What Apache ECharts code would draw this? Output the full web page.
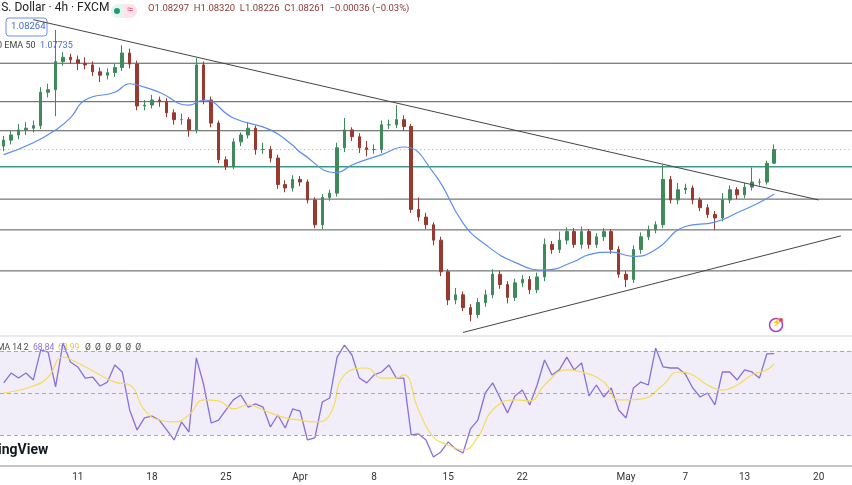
<!DOCTYPE html>
<html><head><meta charset="utf-8">
<script src="https://cdn.jsdelivr.net/npm/echarts@6/dist/echarts.min.js"></script>
<style>html,body{margin:0;padding:0;background:#fff}#c{width:852px;height:485px}</style>
</head><body><div id="c"></div>
<script>
// 4h EUR/USD bars sampled every half day (index = half trading day)
var closes = [1.0837,1.0843,1.0849,1.0851,1.0854,1.0893,1.0896,1.0929,1.0934,1.0931,
  1.0927,1.0925,1.0917,1.0913,1.0916,1.0922,1.0939,1.0926,1.0877,1.0878,
  1.0884,1.0882,1.0869,1.0861,1.0861,1.0849,1.0925,1.0884,1.0857,1.0814,
  1.0806,1.0835,1.0843,1.0851,1.0826,1.0826,1.0816,1.0785,1.0781,1.0791,
  1.0788,1.0767,1.0738,1.0770,1.0775,1.0828,1.0849,1.0841,1.0828,1.0826,
  1.0826,1.0855,1.0855,1.0861,1.0853,1.0756,1.0747,1.0738,1.0720,1.0683,
  1.0650,1.0656,1.0641,1.0633,1.0647,1.0656,1.0680,1.0668,1.0653,1.0670,
  1.0674,1.0662,1.0677,1.0715,1.0709,1.0720,1.0730,1.0715,1.0730,1.0715,
  1.0724,1.0730,1.0709,1.0680,1.0674,1.0709,1.0724,1.0732,1.0738,1.0791,
  1.0767,1.0779,1.0781,1.0767,1.0758,1.0750,1.0746,1.0767,1.0779,1.0773,
  1.0782,1.0788,1.0788,1.0810,1.0826];
var firstOpen = 1.0830;
var highs = [1.0842,1.0848,1.0856,1.0858,1.0860,1.0899,1.0903,1.0966,1.0940,1.0938,
  1.0936,1.0934,1.0929,1.0922,1.0921,1.0927,1.0948,1.0944,1.0930,1.0884,
  1.0890,1.0888,1.0886,1.0873,1.0868,1.0864,1.0933,1.0929,1.0888,1.0860,
  1.0818,1.0839,1.0846,1.0858,1.0854,1.0834,1.0830,1.0820,1.0790,1.0796,
  1.0795,1.0791,1.0770,1.0774,1.0779,1.0834,1.0863,1.0852,1.0845,1.0836,
  1.0832,1.0860,1.0861,1.0878,1.0866,1.0856,1.0770,1.0752,1.0741,1.0724,
  1.0686,1.0664,1.0660,1.0645,1.0652,1.0662,1.0686,1.0684,1.0672,1.0675,
  1.0679,1.0678,1.0682,1.0722,1.0719,1.0730,1.0735,1.0734,1.0736,1.0733,
  1.0728,1.0734,1.0733,1.0713,1.0684,1.0714,1.0729,1.0737,1.0742,1.0808,
  1.0795,1.0787,1.0786,1.0784,1.0770,1.0762,1.0754,1.0775,1.0784,1.0782,
  1.0787,1.0805,1.0792,1.0813,1.0832];
var lows = [1.0824,1.0832,1.0838,1.0843,1.0846,1.0850,1.0887,1.0865,1.0924,1.0926,
  1.0919,1.0920,1.0912,1.0905,1.0908,1.0911,1.0918,1.0921,1.0872,1.0872,
  1.0874,1.0876,1.0864,1.0855,1.0855,1.0841,1.0845,1.0879,1.0852,1.0810,
  1.0802,1.0803,1.0830,1.0839,1.0820,1.0821,1.0811,1.0780,1.0776,1.0777,
  1.0783,1.0763,1.0734,1.0733,1.0766,1.0771,1.0823,1.0836,1.0822,1.0818,
  1.0821,1.0822,1.0850,1.0851,1.0848,1.0752,1.0742,1.0733,1.0714,1.0678,
  1.0644,1.0645,1.0637,1.0625,1.0629,1.0642,1.0652,1.0663,1.0646,1.0649,
  1.0665,1.0657,1.0658,1.0672,1.0704,1.0705,1.0715,1.0711,1.0710,1.0710,
  1.0711,1.0719,1.0704,1.0676,1.0665,1.0670,1.0704,1.0720,1.0728,1.0734,
  1.0763,1.0762,1.0774,1.0762,1.0754,1.0746,1.0732,1.0742,1.0763,1.0768,
  1.0769,1.0778,1.0784,1.0785,1.0822];
// EMA 50: [bar index, price]
var ema50 = [[0,1.0820],[4,1.0834],[7,1.0849],[8.6,1.0863],[11.4,1.0884],[14.5,1.0893],[16.9,1.0903],
  [18.5,1.0899],[20.8,1.0893],[25.3,1.0878],[27,1.0884],[31.1,1.0863],[35.7,1.0849],[38.8,1.0831],
  [40.1,1.0823],[44.6,1.0799],[46.5,1.0808],[50.9,1.0820],[54.3,1.0829],[57.7,1.0799],[61.8,1.0740],
  [64.5,1.0715],[68.9,1.0694],[72.6,1.0685],[76.6,1.0695],[78.9,1.0703],[82.4,1.0706],[84.7,1.0701],
  [87.8,1.0709],[92.4,1.0736],[95.9,1.0741],[98.6,1.0752],[102.3,1.0764],[104.3,1.0774]];
var rsi = [54.8,59.5,57.1,59.5,56.2,70.5,69.5,52.9,73.8,64.8,62.4,57.1,57.6,53.3,55.2,63.3,60,41.9,32.4,38.1,
  39,37.1,32.4,27.6,36.2,31.4,66.7,53.8,35.7,37.1,41.9,46.7,49,43.3,44.8,43.3,33.8,39.5,33.3,42.4,
  41.4,27.6,28.6,45.7,47.6,67.1,72.8,68.1,57.1,54.8,58.6,60,63.3,57.1,57.1,30,30.5,27.6,19.5,21.9,
  26.7,23.3,21.4,32.9,37.1,50,54.8,47.6,40.5,48.6,51.4,44.3,53.8,65.7,58.6,61,67.1,61,64.3,48.6,
  53.8,48.1,52.4,41.9,38.1,52.4,55.2,53.8,71.4,62.4,61.9,61.9,59,52.4,48.1,50,44.3,60,60,56.2,
  61,60,57.1,68.6,68.8];
var rsiMa = [[0,50],[4,53.3],[6,57.6],[8,67.1],[10,64.3],[13,58.6],[15,55.2],[17,53.8],[19,41.9],[21,37.1],
  [23,36.2],[25,39.5],[27,46.7],[29,46.2],[31,42.4],[33,44.3],[35,41.9],[38,38.1],[40,37.1],[42,36.2],
  [44,39.5],[46,58.6],[49,61.9],[51,57.1],[53,57.1],[54,58.6],[56,41.9],[58,29],[60,25.2],[62,22.9],
  [64,29],[66,41.9],[69,46.7],[71,46.2],[73,53.8],[76,61],[78,60],[81,55.2],[83,46.7],[86,47.1],
  [89,53.8],[91,60],[93,58.6],[95,53.8],[97,51.4],[99,53.8],[101,58.6],[103,61],[104,63.99]];
var levels = [1.0927,1.0882,1.0848,1.0768,1.0732,1.0684];
var keyLevel = 1.0806;
var lastPrice = 1.0826;
var downTrend = [[3.6,1.0978],[110,1.0767]];
var upTrend = [[61.5,1.0612],[113.4,1.0725]];
var tickLabels = {10:'11',20:'18',30:'25',40:'Apr',50:'8',60:'15',70:'22',84:'May',92:'7',100:'13',110:'20'};
var nBars = 115;

var cats = [];
for (var i = 0; i < nBars; i++) cats.push(String(i));
var ohlc = closes.map(function (c, i) {
  var o = i === 0 ? firstOpen : closes[i - 1];
  return [o, c, lows[i], highs[i]];
});

function hLine(v, color, width, type) {
  return { type: 'line', xAxisIndex: 0, yAxisIndex: 0, data: [[-1, v], [nBars, v]], showSymbol: false,
    silent: true, clip: false, z: 1, lineStyle: { color: color, width: width, type: type } };
}

var chart = echarts.init(document.getElementById('c'));
var font = 'Roboto, "Noto Sans", sans-serif';
var series = levels.map(function (v) { return hLine(v, '#555', 1, 'solid'); });
series.push(hLine(keyLevel, '#3a9a85', 1.5, 'solid'));
series.push(hLine(lastPrice, '#e09a8a', 1, [1, 3]));
series.push(
  { type: 'candlestick', xAxisIndex: 0, yAxisIndex: 0, data: ohlc, barWidth: 3, z: 3,
    itemStyle: { color: '#3f8a5a', color0: '#983a2f', borderColor: '#3f8a5a', borderColor0: '#983a2f', borderWidth: 1 } },
  { type: 'line', xAxisIndex: 0, yAxisIndex: 0, data: ema50, smooth: true, showSymbol: false, z: 4,
    lineStyle: { color: '#5a8ef0', width: 1.2 } },
  { type: 'line', xAxisIndex: 0, yAxisIndex: 0, data: downTrend, showSymbol: false, z: 4,
    lineStyle: { color: '#444', width: 1 } },
  { type: 'line', xAxisIndex: 0, yAxisIndex: 0, data: upTrend, showSymbol: false, z: 4,
    lineStyle: { color: '#444', width: 1 } },
  { type: 'line', xAxisIndex: 1, yAxisIndex: 1, data: rsi, showSymbol: false,
    lineStyle: { color: '#8a6fd8', width: 1.3 },
    markArea: { silent: true, itemStyle: { color: 'rgba(126,87,194,0.1)' }, data: [[{ yAxis: 30 }, { yAxis: 70 }]] },
    markLine: { symbol: 'none', silent: true, label: { show: false },
      lineStyle: { color: '#aaa', type: [4, 3], width: 1 },
      data: [{ yAxis: 70 }, { yAxis: 50 }, { yAxis: 30 }] } },
  { type: 'line', xAxisIndex: 1, yAxisIndex: 1, data: rsiMa, smooth: true, showSymbol: false,
    lineStyle: { color: '#f5dc5a', width: 1.2 } }
);

chart.setOption({
  animation: false,
  textStyle: { fontFamily: font },
  grid: [
    { left: 0, right: 0, top: 0, height: 335 },
    { left: 0, right: 0, top: 338, height: 128 }
  ],
  xAxis: [
    { gridIndex: 0, type: 'category', data: cats, show: false },
    { gridIndex: 1, type: 'category', data: cats,
      axisLine: { show: true, lineStyle: { color: '#b0b3bb', width: 1.5 } },
      axisTick: { show: false },
      axisLabel: { interval: 0, color: '#333', fontSize: 10, margin: 6,
        formatter: function (v) { return tickLabels[v] || ''; } } }
  ],
  yAxis: [
    { gridIndex: 0, min: 1.0609, max: 1.1001, show: false },
    { gridIndex: 1, min: 15.2, max: 76.2, show: false }
  ],
  series: series,
  graphic: [
    { type: 'line', shape: { x1: 0, y1: 336, x2: 852, y2: 336 }, style: { stroke: '#e0e3eb', lineWidth: 1.5 } },
    { type: 'text', left: -2, top: 2, style: { text: '.S. Dollar · 4h · FXCM', fontSize: 12, fill: '#222', fontFamily: font } },
    { type: 'rect', shape: { x: 111, y: 4, width: 26, height: 14, r: 7 }, style: { fill: '#e6f4ef' } },
    { type: 'rect', shape: { x: 124, y: 4, width: 13, height: 14, r: [0, 7, 7, 0] }, style: { fill: '#fde4ea' } },
    { type: 'circle', shape: { cx: 117, cy: 11, r: 3 }, style: { fill: '#1e9a7a' } },
    { type: 'text', left: 127, top: 4, style: { text: '≈', fontSize: 11, fill: '#e04c6c' } },
    { type: 'text', left: 148, top: 4, style: { text: 'O1.08297  H1.08320  L1.08226  C1.08261  −0.00036 (−0.03%)', fontSize: 9.5, fill: '#8c3a36', fontFamily: font } },
    { type: 'rect', shape: { x: 6, y: 18, width: 41, height: 18, r: 3 }, style: { fill: '#fff', stroke: '#6b8ff0', lineWidth: 1 } },
    { type: 'text', left: 11, top: 22, style: { text: '1.08264', fontSize: 9.5, fill: '#3d6be0', fontFamily: font } },
    { type: 'text', left: -3, top: 41, style: { text: '0 EMA 50', fontSize: 9, fill: '#444', fontFamily: font } },
    { type: 'text', left: 40, top: 41, style: { text: '1.07735', fontSize: 9, fill: '#3d6be0', fontFamily: font } },
    { type: 'text', left: -3, top: 343, style: { text: 'MA 14 2', fontSize: 8.5, fill: '#444', fontFamily: font } },
    { type: 'text', left: 33, top: 343, style: { text: '68.84', fontSize: 8.5, fill: '#8a6fd8', fontFamily: font } },
    { type: 'text', left: 58, top: 343, style: { text: '63.99', fontSize: 8.5, fill: '#e8c63a', fontFamily: font } },
    { type: 'text', left: 85, top: 343, style: { text: 'Ø  Ø  Ø  Ø  Ø  Ø', fontSize: 8.5, fill: '#444', fontFamily: font } },
    { type: 'text', left: -2, top: 443, style: { text: 'ingView', fontSize: 14, fontWeight: 'bold', fill: '#131722', fontFamily: font } },
    { type: 'circle', shape: { cx: 776, cy: 325, r: 6.5 }, style: { fill: '#fff', stroke: '#a63fc9', lineWidth: 1.5 } },
    { type: 'text', left: 772, top: 319, style: { text: '⚡', fontSize: 8, fill: '#a63fc9' } },
    { type: 'circle', shape: { cx: 781, cy: 320, r: 2 }, style: { fill: '#f0435a' } }
  ]
});
</script></body></html>
